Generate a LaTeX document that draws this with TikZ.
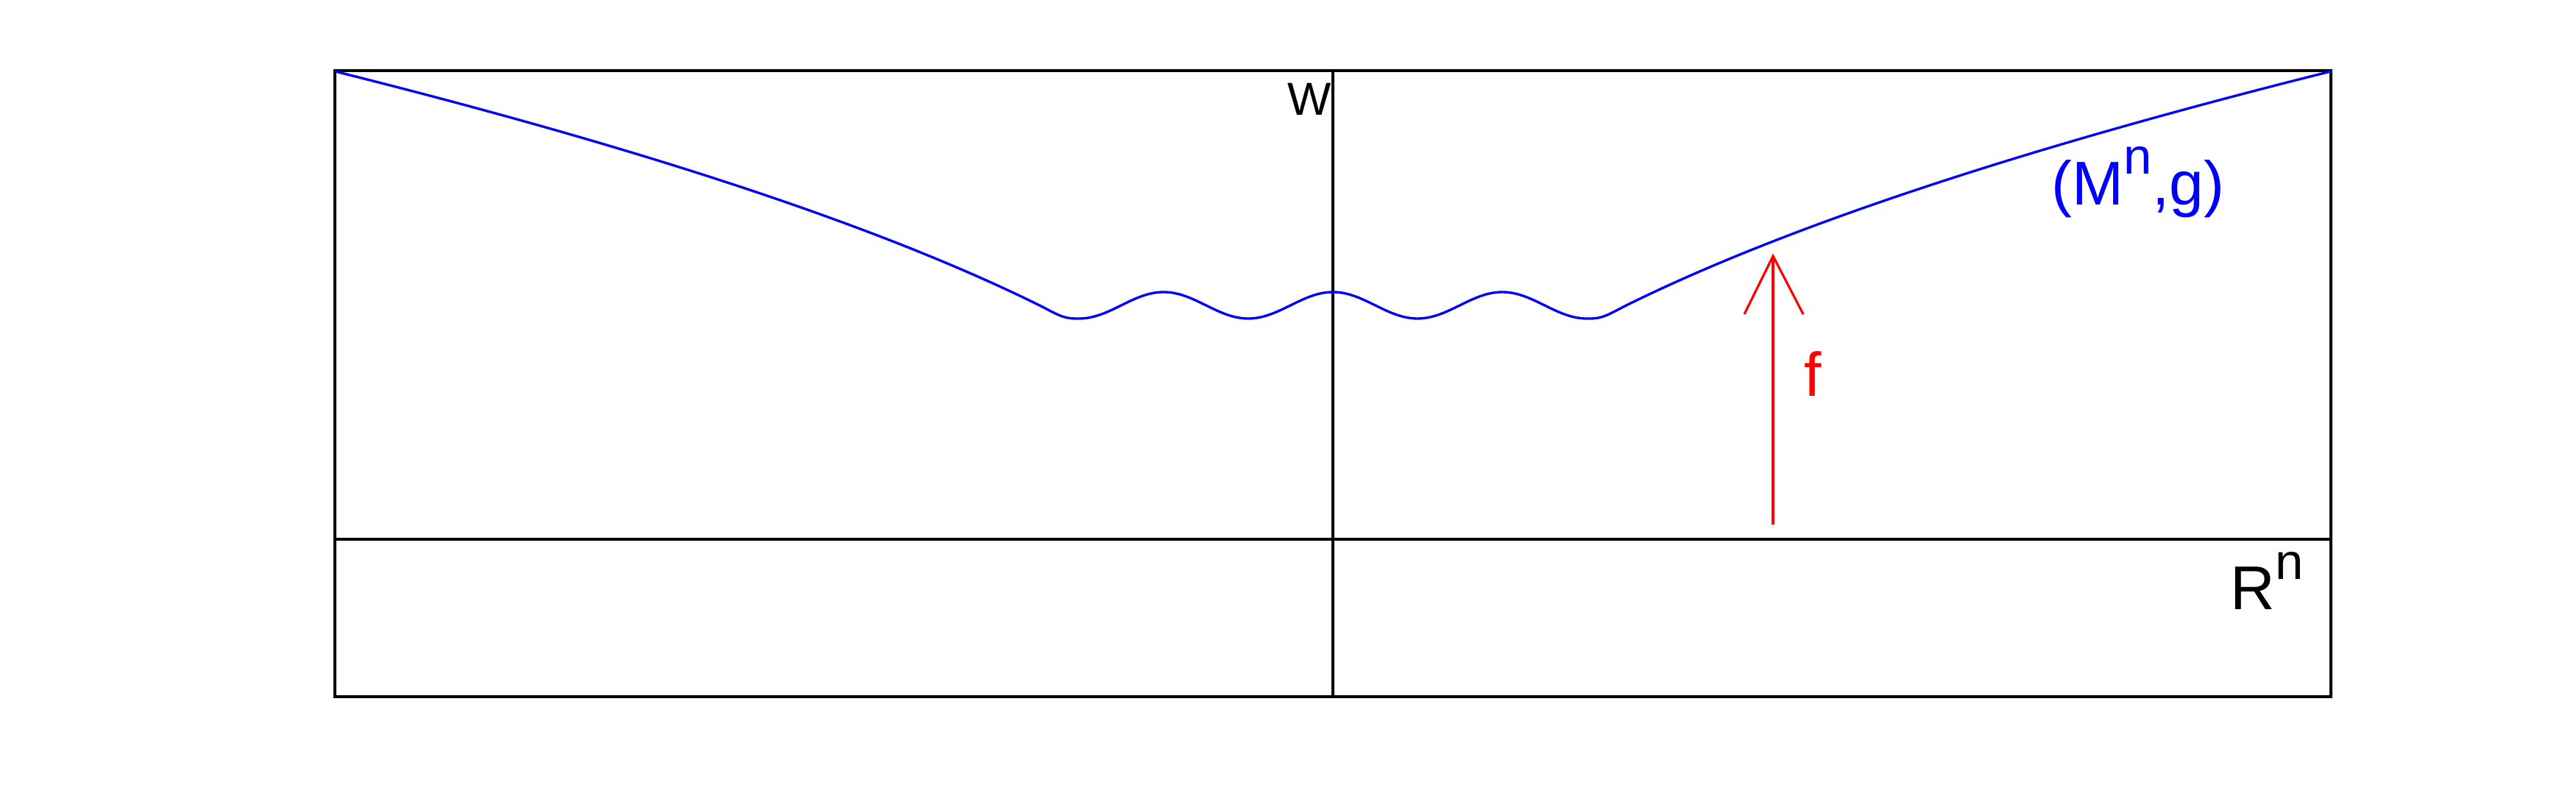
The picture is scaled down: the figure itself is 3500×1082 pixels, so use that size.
\documentclass[tikz,border=0pt]{standalone}
\usepackage{fontspec}
\setmainfont{Liberation Sans}
\newcommand\lblfont{\fontsize{23.9pt}{28pt}\selectfont}
\newcommand\lblsup{\fontsize{19.6pt}{22pt}\selectfont}
\newcommand\lblsmall{\fontsize{17.9pt}{21pt}\selectfont}
\begin{document}
\begin{tikzpicture}[x=0.01cm,y=-0.01cm,
  frame/.style={line width=1.05pt, black},
  curve/.style={line width=0.95pt, blue},
  arrowline/.style={line width=0.9pt, red},
  lbl/.style={inner sep=0pt, anchor=base west},
  declare function={
    rpx(\t)=abs(\t-1811);
    tt(\t)=min(max((rpx(\t)-345)/55,0),1);
    sstep(\u)=3*\u*\u-2*\u*\u*\u;
    wavey(\t)=415-18*cos(1.56522*(\t-1811));
    basey(\t)=740.3-17.94*sqrt(max(rpx(\t)-70,1));
    gy(\t)=(rpx(\t)<=345) ? (wavey(\t)) : ((rpx(\t)<400) ? ((1-sstep(tt(\t)))*wavey(\t)+sstep(tt(\t))*basey(\t)) : (basey(\t)));
  }]
\useasboundingbox (0,0) rectangle (3500,1082);
% frame
\coordinate (tl) at (455,96);
\coordinate (br) at (3167,947);
\coordinate (ml) at (455,733);
\coordinate (mr) at (3167,733);
\coordinate (ct) at (1811,96);
\coordinate (cb) at (1811,947);
\draw[frame] (tl) rectangle (br);
\draw[frame] (ml) -- (mr);
\draw[frame] (ct) -- (cb);
% manifold curve
\draw[curve, line join=round] plot[domain=455:3167, samples=900] (\x, {gy(\x)});
% arrow f
\coordinate (ftail) at (2409,713);
\coordinate (ftip) at (2409,348);
\coordinate (barbl) at (2370,427);
\coordinate (barbr) at (2450,427);
\draw[arrowline] (ftail) -- (ftip);
\draw[arrowline] (barbl) -- (ftip) -- (barbr);
% labels
\node[lbl, font=\lblsmall] (wlabel) at (1749,157) {W};
\node[lbl, blue, font=\lblfont] (mlabel) at (2787,278) {(M\raisebox{11.7pt}{\lblsup n},g)};
\node[lbl, font=\lblfont] (rlabel) at (3030,828) {R\raisebox{11.4pt}{\lblsup n}};
\node[lbl, red, font=\lblfont] (flabel) at (2451,538) {f};
\end{tikzpicture}
\end{document}
